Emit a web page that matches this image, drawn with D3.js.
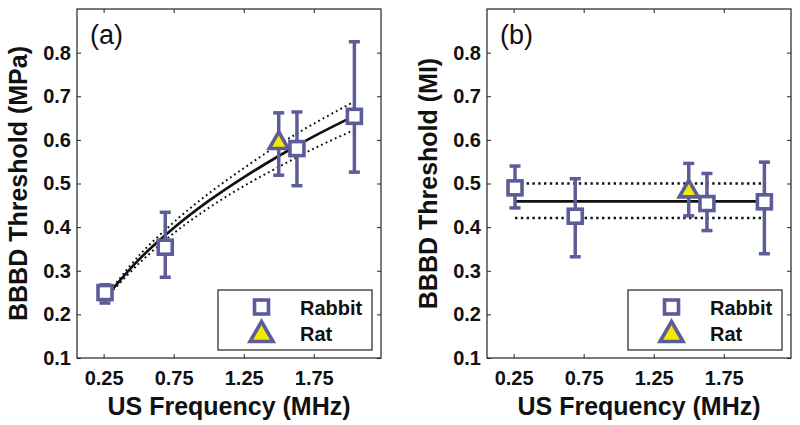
<!DOCTYPE html>
<html>
<head>
<meta charset="utf-8">
<script src="https://cdn.jsdelivr.net/npm/d3@7"></script>
<style>
  html, body { margin: 0; padding: 0; background: #fff; }
  svg { display: block; }
  text { font-family: "Liberation Sans", Arial, sans-serif; }
</style>
</head>
<body>
<svg id="chart" width="800" height="425"></svg>
<script>
// ---------- data ----------
const xTicks = [0.25, 0.75, 1.25, 1.75];
const xTickLabels = ["0.25", "0.75", "1.25", "1.75"];
const yTicks = [0.1, 0.2, 0.3, 0.4, 0.5, 0.6, 0.7, 0.8];
const yTickLabels = ["0.1", "0.2", "0.3", "0.4", "0.5", "0.6", "0.7", "0.8"];

const rabbitFreq = [0.26, 0.69, 1.63, 2.04];
const ratFreq = [1.5];

// panel (a): pressure threshold (MPa)
const rabbitP   = [0.250, 0.354, 0.580, 0.654];
const rabbitPLo = [0.226, 0.285, 0.495, 0.526];
const rabbitPHi = [0.268, 0.434, 0.664, 0.825];
const ratP   = [0.597];
const ratPLo = [0.519];
const ratPHi = [0.662];

// fitted curve and its bounds for panel (a)
const fitFreqA  = [0.32, 0.50, 0.75, 1.00, 1.25, 1.50, 1.75, 2.04];
const fitA      = [0.260, 0.325, 0.398, 0.460, 0.514, 0.563, 0.608, 0.655];
const fitAUpper = [0.264, 0.334, 0.411, 0.477, 0.535, 0.589, 0.637, 0.688];
const fitALower = [0.256, 0.316, 0.386, 0.444, 0.494, 0.538, 0.580, 0.623];

// panel (b): mechanical index
const rabbitMI   = [0.490, 0.425, 0.454, 0.458];
const rabbitMILo = [0.444, 0.332, 0.392, 0.339];
const rabbitMIHi = [0.540, 0.511, 0.523, 0.549];
const ratMI   = [0.486];
const ratMILo = [0.426];
const ratMIHi = [0.546];

const fitFreqB  = [0.26, 2.04];
const fitB      = [0.459, 0.459];
const fitBUpper = [0.500, 0.500];
const fitBLower = [0.421, 0.421];

const legendLabels = ["Rabbit", "Rat"];

// ---------- styles ----------
const markerColor = "#5c5c99";
const yellow = "#f2ea00";

const svg = d3.select("#chart");

const panels = [
  {
    label: "(a)", yTitle: "BBBD Threshold (MPa)",
    left: 77, right: 381, top: 9, bottom: 358,
    rabbit: rabbitP, rabbitLo: rabbitPLo, rabbitHi: rabbitPHi,
    rat: ratP, ratLo: ratPLo, ratHi: ratPHi,
    fitX: fitFreqA, fit: fitA, fitU: fitAUpper, fitL: fitALower,
    curved: true,
    yTitleX: 27, dotW: 2.0, dash: "1.8,3.2"
  },
  {
    label: "(b)", yTitle: "BBBD Threshold (MI)",
    left: 487, right: 791, top: 9, bottom: 358,
    rabbit: rabbitMI, rabbitLo: rabbitMILo, rabbitHi: rabbitMIHi,
    rat: ratMI, ratLo: ratMILo, ratHi: ratMIHi,
    fitX: fitFreqB, fit: fitB, fitU: fitBUpper, fitL: fitBLower,
    curved: false,
    yTitleX: 437, dotW: 2.6, dash: "2.4,3.4"
  }
];

panels.forEach(p => {
  const x = d3.scaleLinear().domain([0.06, 2.23]).range([p.left, p.right]);
  const y = d3.scaleLinear().domain([0.1, 0.9]).range([p.bottom, p.top]);
  const g = svg.append("g");

  // fit lines
  const line = d3.line()
    .x(d => x(d[0])).y(d => y(d[1]))
    .curve(p.curved ? d3.curveCatmullRom : d3.curveLinear);
  const pts = arr => p.fitX.map((f, i) => [f, arr[i]]);
  [p.fitU, p.fitL].forEach(arr => {
    g.append("path").attr("d", line(pts(arr)))
      .attr("fill", "none").attr("stroke", "#111")
      .attr("stroke-width", p.dotW).attr("stroke-dasharray", p.dash);
  });
  g.append("path").attr("d", line(pts(p.fit)))
    .attr("fill", "none").attr("stroke", "#111").attr("stroke-width", 2.7);

  // error bars
  const drawErr = (fx, lo, hi) => {
    fx.forEach((f, i) => {
      const cx = x(f);
      g.append("line").attr("x1", cx).attr("x2", cx)
        .attr("y1", y(lo[i])).attr("y2", y(hi[i]))
        .attr("stroke", markerColor).attr("stroke-width", 3.5);
      [lo[i], hi[i]].forEach(v => {
        g.append("line").attr("x1", cx - 5.5).attr("x2", cx + 5.5)
          .attr("y1", y(v)).attr("y2", y(v))
          .attr("stroke", markerColor).attr("stroke-width", 3.5);
      });
    });
  };
  drawErr(rabbitFreq, p.rabbitLo, p.rabbitHi);
  drawErr(ratFreq, p.ratLo, p.ratHi);

  const square = (cx, cy) => g.append("rect")
    .attr("x", cx - 7).attr("y", cy - 7).attr("width", 14).attr("height", 14)
    .attr("fill", "#fff").attr("stroke", markerColor).attr("stroke-width", 3.6);
  const tri = (cx, cy, s) => {
    const h = s * 0.87;
    g.append("path")
      .attr("d", `M${cx},${cy - h / 2 - 1}L${cx + s / 2},${cy + h / 2 - 1}L${cx - s / 2},${cy + h / 2 - 1}Z`)
      .attr("fill", yellow).attr("stroke", markerColor).attr("stroke-width", 3.6)
      .attr("stroke-linejoin", "miter");
  };

  rabbitFreq.forEach((f, i) => square(x(f), y(p.rabbit[i])));
  ratFreq.forEach((f, i) => tri(x(f), y(p.rat[i]), 19));

  // axes with inward ticks
  const axL = g.append("g").attr("transform", `translate(${p.left},0)`)
    .call(d3.axisLeft(y).tickValues(yTicks).tickFormat((d, i) => yTickLabels[i])
      .tickSizeInner(-4).tickSizeOuter(0).tickPadding(6));
  const axR = g.append("g").attr("transform", `translate(${p.right},0)`)
    .call(d3.axisRight(y).tickValues(yTicks).tickFormat("").tickSizeInner(-4).tickSizeOuter(0));
  const axB = g.append("g").attr("transform", `translate(0,${p.bottom})`)
    .call(d3.axisBottom(x).tickValues(xTicks).tickFormat((d, i) => xTickLabels[i])
      .tickSizeInner(-4).tickSizeOuter(0).tickPadding(13));
  const axT = g.append("g").attr("transform", `translate(0,${p.top})`)
    .call(d3.axisTop(x).tickValues(xTicks).tickFormat("").tickSizeInner(-4).tickSizeOuter(0));
  [axL, axR, axB, axT].forEach(a => {
    a.select(".domain").remove();
    a.selectAll("line").attr("stroke", "#222").attr("stroke-width", 1);
    a.selectAll("text").attr("font-size", 20).attr("font-weight", "bold")
      .attr("fill", "#111").attr("font-family", "Liberation Sans, Arial, sans-serif");
  });
  axB.selectAll("text").attr("dy", "0.71em");

  g.append("rect").attr("x", p.left).attr("y", p.top)
    .attr("width", p.right - p.left).attr("height", p.bottom - p.top)
    .attr("fill", "none").attr("stroke", "#222").attr("stroke-width", 1.2);

  // titles
  g.append("text").attr("x", (p.left + p.right) / 2).attr("y", 415)
    .attr("text-anchor", "middle").attr("font-size", 25).attr("font-weight", "bold")
    .attr("fill", "#111").text("US Frequency (MHz)");
  g.append("text").attr("transform", `translate(${p.yTitleX},${(p.top + p.bottom) / 2}) rotate(-90)`)
    .attr("text-anchor", "middle").attr("font-size", 25).attr("font-weight", "bold")
    .attr("fill", "#111").text(p.yTitle);
  g.append("text").attr("x", p.left + 13).attr("y", 44)
    .attr("font-size", 27).attr("fill", "#111").text(p.label);

  // legend
  const lx = p.left + 141, ly = 290, lw = 154, lh = 60;
  g.append("rect").attr("x", lx).attr("y", ly).attr("width", lw).attr("height", lh)
    .attr("fill", "#fff").attr("stroke", "#222").attr("stroke-width", 1.2);
  square(lx + 43.5, ly + 17);
  tri(lx + 43.5, ly + 42.5, 23);
  legendLabels.forEach((t, i) => {
    g.append("text").attr("x", lx + 82).attr("y", ly + 25 + i * 26)
      .attr("font-size", 20).attr("font-weight", "bold").attr("fill", "#111").text(t);
  });
});
</script>
</body>
</html>
